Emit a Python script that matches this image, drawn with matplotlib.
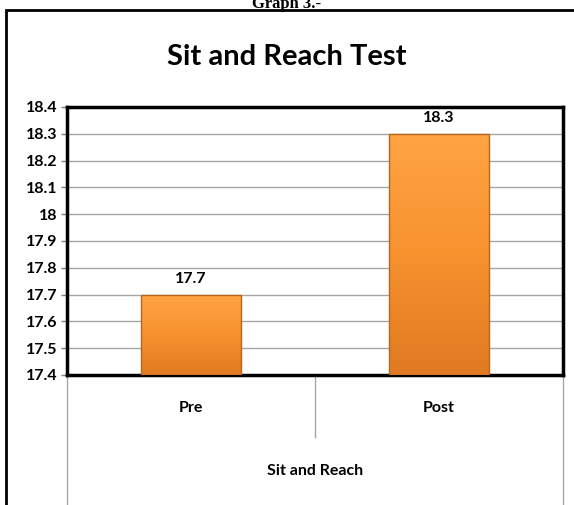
import numpy as np
import matplotlib
matplotlib.use("Agg")
import matplotlib.pyplot as plt
from matplotlib.patches import Rectangle
import matplotlib.transforms as mtransforms

categories = ["Pre", "Post"]
values = [17.7, 18.3]
group_label = "Sit and Reach"
title = "Sit and Reach Test"
caption = "Graph 3.-"
y_ticks = [17.4, 17.5, 17.6, 17.7, 17.8, 17.9, 18.0, 18.1, 18.2, 18.3, 18.4]

W, H = 574, 505
fig = plt.figure(figsize=(W / 100, H / 100), dpi=100)

# outer frame of the chart (right side runs off the picture)
fig.patches.append(Rectangle((6 / W, -0.05), 1.0, 1 - 10 / H + 0.05,
                             transform=fig.transFigure, fill=False,
                             edgecolor="black", linewidth=2))

fig.text(0.5, 1 - 8 / H, caption, ha="center", va="baseline",
         family="Liberation Serif", weight="bold", fontsize=12)
fig.text(0.5, 1 - 57 / H, title, ha="center", va="center",
         family="Lato", weight="bold", fontsize=21)

ax = fig.add_axes([67 / W, 1 - 375 / H, 496 / W, 268 / H])
x = np.arange(len(categories))
bottom = y_ticks[0]
ax.set_xlim(-0.5, len(categories) - 0.5)
ax.set_ylim(y_ticks[0], y_ticks[-1])
ax.set_yticks(y_ticks)
ax.set_yticklabels([f"{v:g}" for v in y_ticks], family="Lato",
                   weight="bold", fontsize=11.5)
ax.set_xticks([])
ax.tick_params(axis="y", length=4, width=1, color="#808080", pad=3)
ax.grid(axis="y", color="#a6a6a6", linewidth=1)
ax.set_axisbelow(True)
for s in ax.spines.values():
    s.set_linewidth(2.5)
    s.set_color("black")

bars = ax.bar(x, np.array(values) - bottom, width=0.4, bottom=bottom,
              color="#f7922f", edgecolor="none", zorder=3)

# vertical gradient fill for the bars
grad = np.linspace(0, 1, 256).reshape(-1, 1)
cmap = matplotlib.colors.LinearSegmentedColormap.from_list(
    "org", ["#ffa443", "#f7922f", "#e07a22"])
for b in bars:
    x0, y0 = b.get_x(), b.get_y()
    im = ax.imshow(grad, cmap=cmap, aspect="auto", zorder=3.5,
                   extent=(x0, x0 + b.get_width(), y0, y0 + b.get_height()))
    im.set_clip_path(b)
    ax.add_patch(Rectangle((x0, y0), b.get_width(), b.get_height(),
                           fill=False, edgecolor="#b8651e", linewidth=1,
                           zorder=4))
ax.set_xlim(-0.5, len(categories) - 0.5)
ax.set_ylim(y_ticks[0], y_ticks[-1])

for xi, v in zip(x, values):
    ax.annotate(f"{v:g}", (xi, v), xytext=(0, 6), textcoords="offset points",
                ha="center", va="bottom", family="Lato", weight="bold",
                fontsize=11.5, zorder=5, annotation_clip=False)

# category axis below the plot
tr = mtransforms.blended_transform_factory(ax.transData, ax.transAxes)
ph = 268
for xb, depth in [(-0.5, 130), (0.5, 62), (len(categories) - 0.5, 130)]:
    ax.plot([xb, xb], [0, -depth / ph], transform=tr, color="#a6a6a6",
            linewidth=1, clip_on=False, zorder=1)
for xi, c in zip(x, categories):
    ax.text(xi, -33 / ph, c, transform=tr, ha="center", va="center",
            family="Lato", weight="bold", fontsize=11.5)
ax.text(0.5, -96 / ph, group_label, transform=tr, ha="center", va="center",
        family="Lato", weight="bold", fontsize=11.5)

fig.savefig("out.png", dpi=100)
